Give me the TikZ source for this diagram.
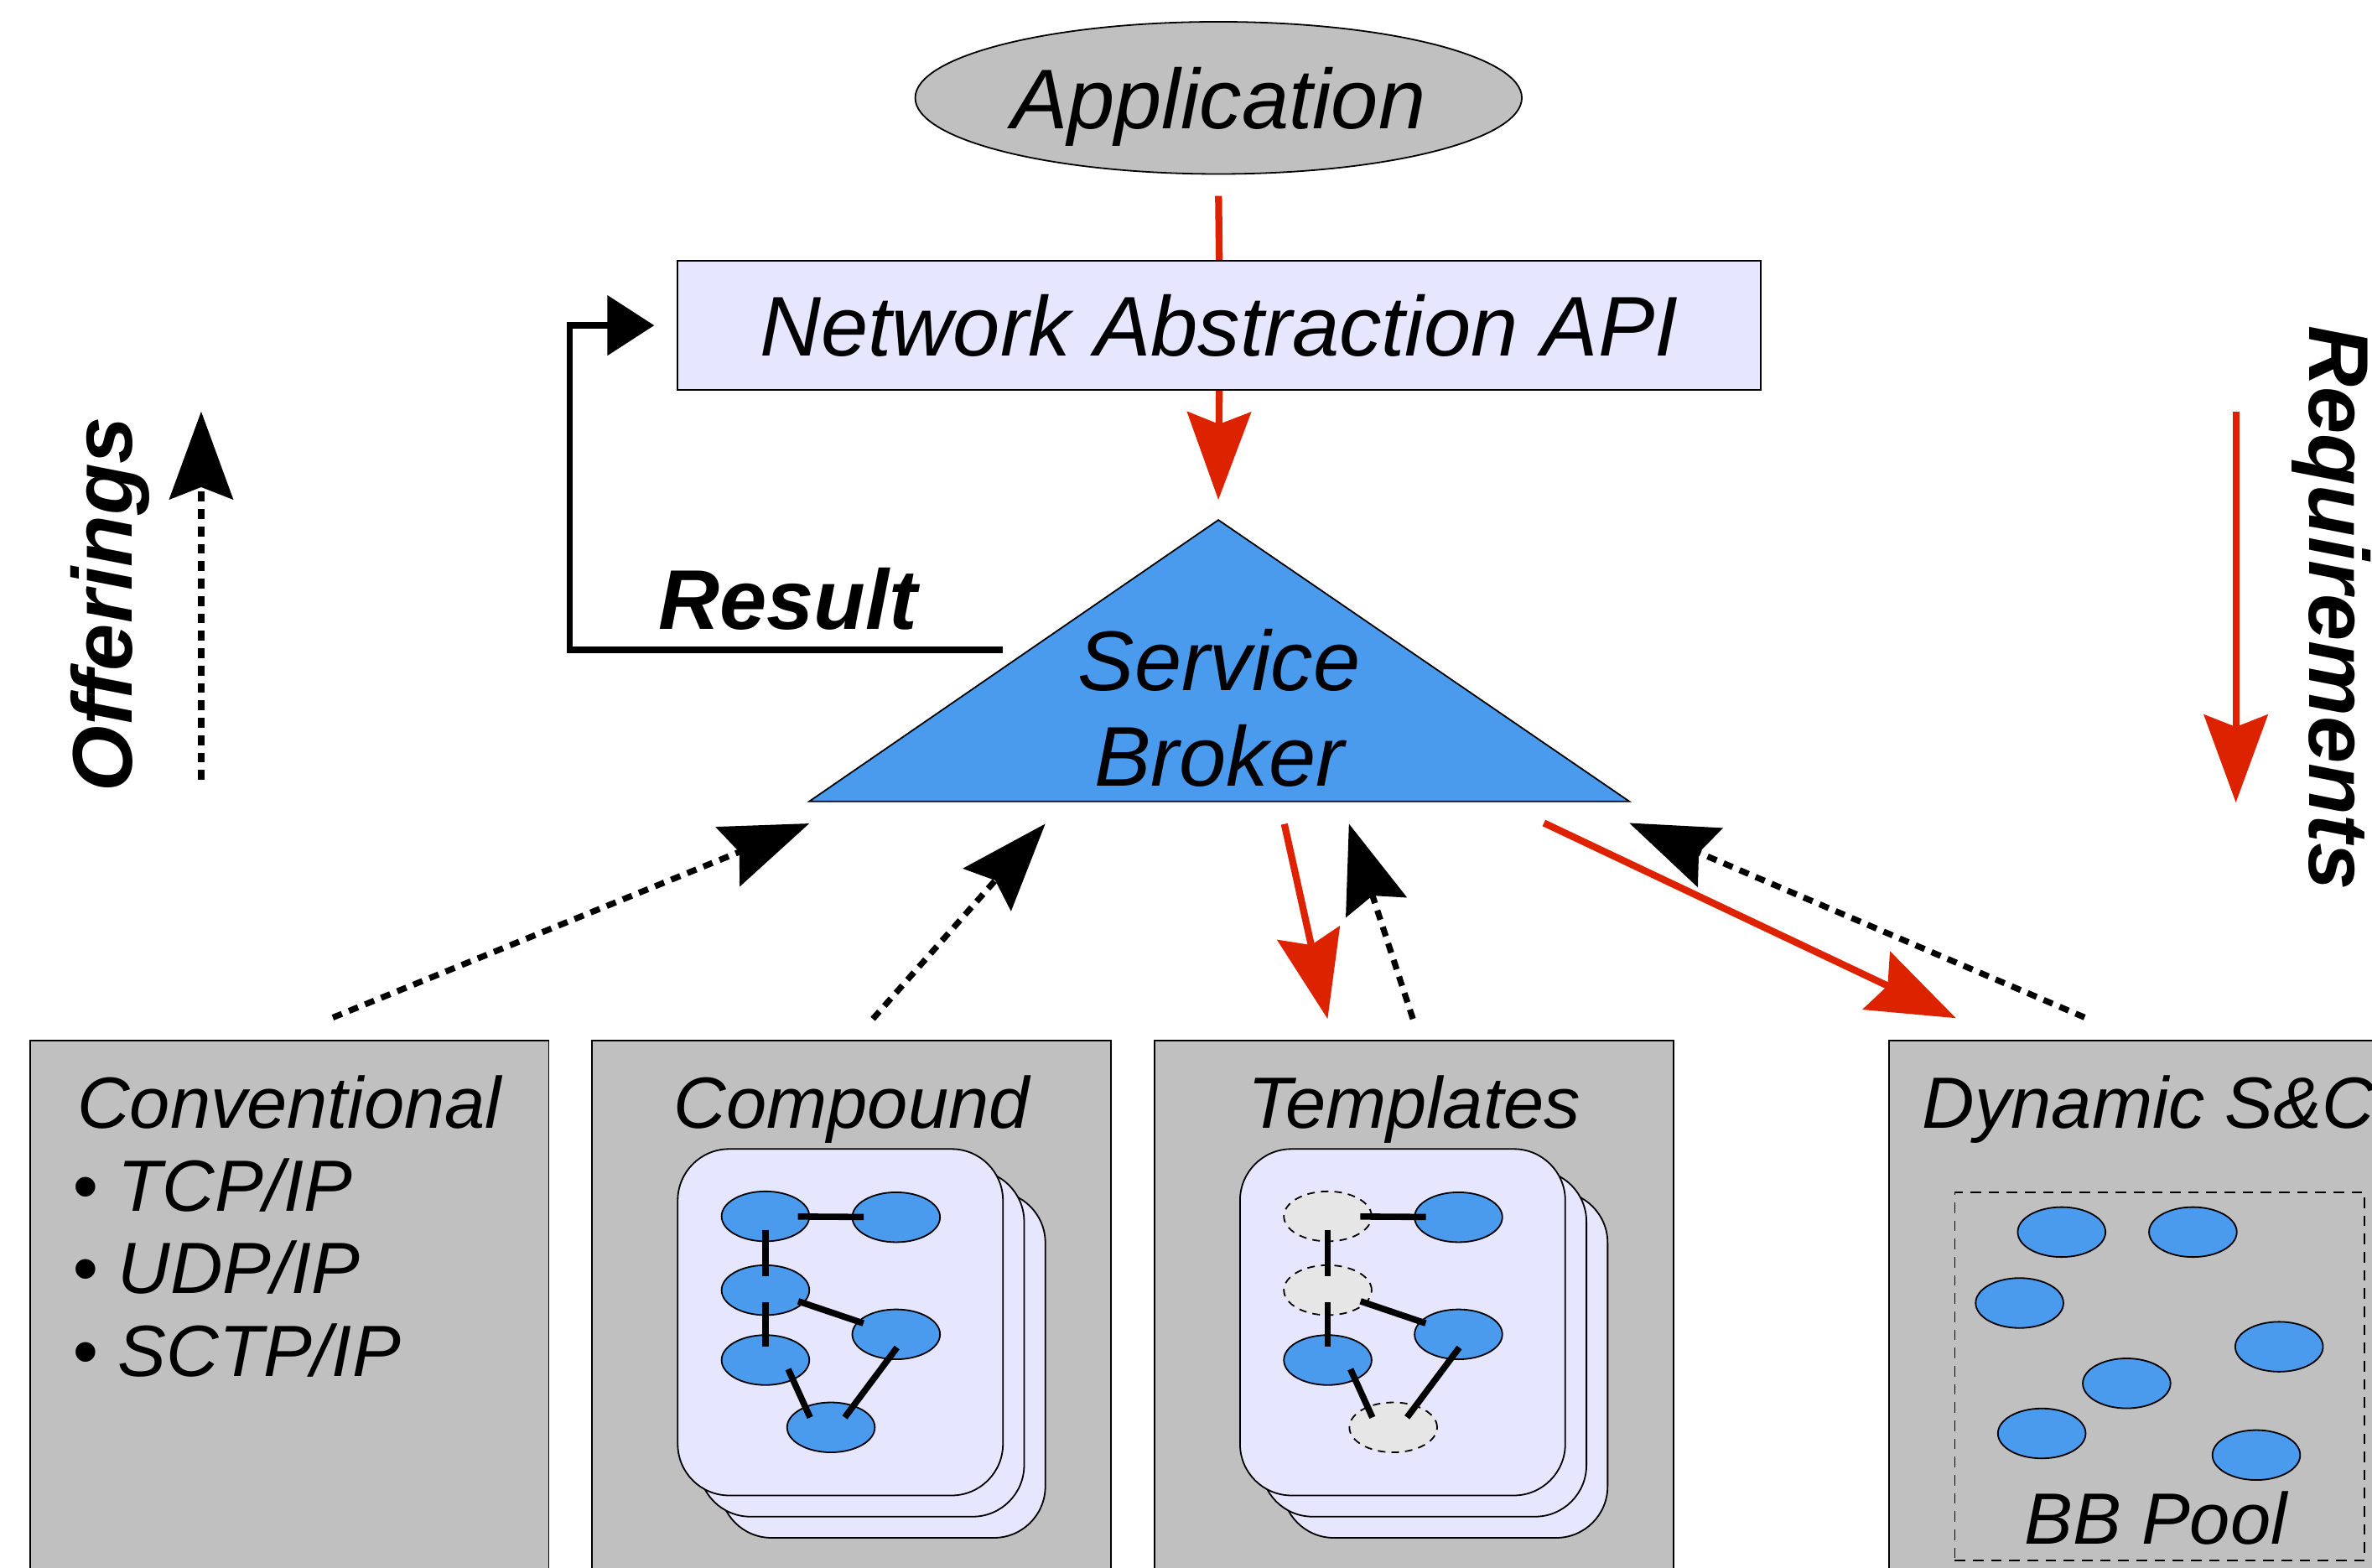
\documentclass[tikz,border=0pt]{standalone}
\usepackage{fontspec}
\setmainfont{Liberation Sans}
\usetikzlibrary{arrows.meta, positioning, shapes.geometric, calc}
\definecolor{panelgray}{RGB}{192,192,192}
\definecolor{apibg}{RGB}{230,230,255}
\definecolor{bbblue}{RGB}{74,154,238}
\definecolor{ghostgray}{RGB}{230,230,230}
\definecolor{flowred}{RGB}{221,34,0}
\tikzset{
    lbl/.style={font=\fontsize{56}{63}\selectfont\itshape, inner sep=0pt},
    boldlbl/.style={font=\fontsize{56}{63}\selectfont\bfseries\itshape, inner sep=0pt},
    boxlbl/.style={font=\fontsize{48}{54}\selectfont\itshape, inner sep=0pt},
    head/.style={-{Stealth[length=58pt, width=42pt, inset=8pt]}},
    flow/.style={draw=flowred, line width=4.6pt},
    need/.style={flow, head},
    offer/.style={line width=4pt, dash pattern=on 6.5pt off 5pt, head},
    back/.style={line width=4pt, -{Triangle[length=31pt, width=39pt]}},
    panel/.style={draw, fill=panelgray, line width=1pt, minimum width=343pt,
        minimum height=420pt, inner sep=0pt, outer sep=0pt, anchor=north west},
    card/.style={draw, fill=apibg, line width=1pt, rounded corners=34pt,
        minimum width=215pt, minimum height=229pt, inner sep=0pt},
    bb/.style={ellipse, draw, fill=bbblue, line width=1pt, minimum width=58pt,
        minimum height=33pt, inner sep=0pt},
    ghost/.style={bb, fill=ghostgray, dash pattern=on 5pt off 4pt},
    link/.style={line width=4.2pt, shorten <=-8pt, shorten >=-8pt},
    bbgraph/.pic={
        \foreach \d in {28,14,0}
            \node[card] (card\d) at (\d,-\d) {};
        \node[#1] (n1) at (-49.5,70) {};
        \node[bb] (n2) at (36.9,69.4) {};
        \node[#1] (n3) at (-49.5,21.2) {};
        \node[bb] (n4) at (36.9,-8) {};
        \node[bb] (n5) at (-49.5,-25) {};
        \node[#1] (n6) at (-6.2,-69.5) {};
        \draw[link] (n1) -- (n2);
        \draw[link] (n1) -- (n3);
        \draw[link, shorten <=-4pt, shorten >=-4pt] (n3) -- (n4);
        \draw[link, shorten <=-9pt] (n3) -- (n5);
        \draw[link] (n5.-36) -- (n6.141);
        \draw[link, shorten <=-10pt, shorten >=-10pt] (n4.-108) -- (n6.44);
    },
}

\begin{document}
\begin{tikzpicture}[x=1pt, y=1pt]
    \useasboundingbox (0,0) rectangle (1568,-1036);
    \clip (0,0) rectangle (1568,-1036);

    \node[lbl, ellipse, draw, fill=panelgray, line width=1pt, minimum width=401pt,
        minimum height=100.6pt, text depth=0pt] (app) at (805.5,-64.7) {Application};
    \node[lbl, draw, fill=apibg, line width=1pt, minimum width=716pt,
        minimum height=85.4pt] (api) at (806,-215.1) {Network Abstraction API};
    \draw[flow] ([yshift=-14pt]app.south) -- (api.north);

    \coordinate (bl) at (535,-529.7);
    \coordinate (bt) at (805.4,-343.7);
    \coordinate (br) at (1077,-529.7);
    \filldraw[fill=bbblue, line width=1pt] (bl) -- (bt) -- (br) -- cycle;
    \node[lbl, align=center] (broker) at (806,-468) {Service\\Broker};
    \draw[need] (api.south) -- ([yshift=13.3pt]bt);

    \coordinate (res) at (663,-429.6);
    \draw[back] (res) -| ([xshift=-71pt]api.west) -- ([xshift=-15pt]api.west);
    \node[boldlbl, anchor=base] (resT) at (521,-416) {Result};

    \node[boldlbl, rotate=90, anchor=base] (offT) at (87.3,-399.4) {Offerings};
    \coordinate (off0) at (133,-515.5);
    \coordinate (off1) at (133,-272);
    \draw[offer] (off0) -- (off1);

    \node[boldlbl, rotate=-90, anchor=base] (reqT) at (1526.5,-401.8) {Requirements};
    \coordinate (req0) at (1478,-272);
    \coordinate (req1) at (1478,-530.5);
    \draw[need] (req0) -- (req1);

    \node[panel] (conv) at (19.8,-687.7) {};
    \node[panel, right=28.7pt of conv] (comp) {};
    \node[panel, right=28.7pt of comp] (tmpl) {};
    \node[panel, right=142.5pt of tmpl] (dyn) {};

    \node[boxlbl, anchor=base] (convT) at ([yshift=-58pt]conv.north) {Conventional};
    \node[boxlbl, anchor=base] (compT) at ([yshift=-58pt]comp.north) {Compound};
    \node[boxlbl, anchor=base] (tmplT) at ([yshift=-58pt]tmpl.north) {Templates};
    \node[boxlbl, anchor=base] (dynT) at ([yshift=-58pt]dyn.north) {Dynamic S\&C};

    \foreach \t [count=\k] in {{TCP/IP},{UDP/IP},{SCTP/IP}}
        \node[boxlbl, anchor=base west] (bul\k)
            at ([xshift=28pt, yshift={-58pt-54.7pt*\k}]conv.north west) {• \t};

    \pic (cg) at ([shift={(164,-186.3)}]comp.north west) {bbgraph=bb};
    \pic (tg) at ([shift={(164,-186.3)}]tmpl.north west) {bbgraph=ghost};

    \node[draw, line width=1pt, dash pattern=on 7pt off 5pt, minimum width=271pt,
        minimum height=243.3pt, inner sep=0pt, anchor=north west]
        (pool) at ([shift={(43,-100)}]dyn.north west) {};
    \foreach \x/\y [count=\k] in {1362.8/814.4, 1449.6/814.4, 1335/861.3,
            1506.6/890.2, 1405.8/914.4, 1349.7/947.5, 1491.5/961.8}
        \node[bb] (bb\k) at (\x,-\y) {};
    \node[boxlbl, anchor=base] (poolT) at (1425,-1020.6) {BB Pool};

    \coordinate (c0) at (220,-672.6);
    \coordinate (c1) at (535,-544.3);
    \coordinate (m0) at (577,-673.5);
    \coordinate (m1) at (691,-544.5);
    \coordinate (t0) at (849,-544.7);
    \coordinate (t1) at (877.6,-673.5);
    \coordinate (t2) at (934,-673.5);
    \coordinate (t3) at (891.7,-544.5);
    \coordinate (d0) at (1020.6,-544);
    \coordinate (d1) at (1293,-673);
    \coordinate (d2) at (1378,-672.5);
    \coordinate (d3) at (1077,-544);
    \draw[offer] (c0) -- (c1);
    \draw[offer] (m0) -- (m1);
    \draw[need] (t0) -- (t1);
    \draw[offer] (t2) -- (t3);
    \draw[need] (d0) -- (d1);
    \draw[offer] (d2) -- (d3);
\end{tikzpicture}
\end{document}
